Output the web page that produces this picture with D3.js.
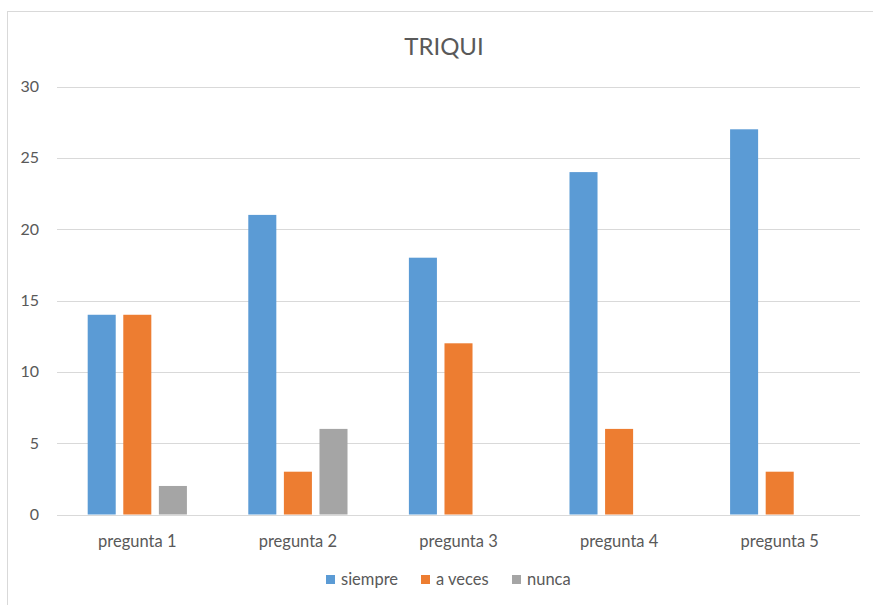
<!DOCTYPE html>
<html><head><meta charset="utf-8">
<script src="https://cdn.jsdelivr.net/npm/d3@7"></script>
<style>body{margin:0;background:#fff}svg{display:block}text{font-family:Lato,"Open Sans",sans-serif}</style>
</head><body><svg id="c" width="873" height="605"></svg>
<script>
const categories = ["pregunta 1","pregunta 2","pregunta 3","pregunta 4","pregunta 5"];
const seriesNames = ["siempre","a veces","nunca"];
const siempre = [14,21,18,24,27];
const aVeces = [14,3,12,6,3];
const nunca = [2,6,0,0,0];
const yTicks = [0,5,10,15,20,25,30];
const colors = ["#5b9bd5","#ed7d31","#a5a5a5"];
const seriesValues = [siempre, aVeces, nunca];

(function(){
const svg = d3.select("#c");
svg.append("rect").attr("x",7.5).attr("y",11.5).attr("width",900).attr("height",700)
  .attr("fill","#fff").attr("stroke","#d9d9d9").attr("stroke-width",1);

const pl=57, pr=860, pt=86.5, pb=514.5;
const y = d3.scaleLinear().domain([0,30]).range([pb,pt]);
const x = d3.scaleBand().domain(categories).range([pl,pr]).paddingInner(0).paddingOuter(0);
const bw = x.bandwidth();
const w = bw/5.73, gap = 0.27*w, outer = 1.095*w;
const xs = d3.scaleBand().domain(seriesNames).range([outer, bw-outer]).paddingInner(gap/(w+gap)).paddingOuter(0);

svg.append("g").selectAll("line").data(yTicks).join("line")
  .attr("x1",pl).attr("x2",pr).attr("y1",d=>Math.round(y(d))+0.5).attr("y2",d=>Math.round(y(d))+0.5)
  .attr("stroke","#d9d9d9").attr("stroke-width",1);

const yAxis = d3.axisLeft(y).tickValues(yTicks).tickSize(0).tickPadding(0);
const ga = svg.append("g").attr("transform",`translate(39,0)`).call(yAxis);
ga.select(".domain").remove();
ga.selectAll("text").attr("fill","#595959").style("font-size","16px").style("font-family","Lato,sans-serif");

seriesNames.forEach((s,i)=>{
  svg.append("g").selectAll("rect").data(categories).join("rect")
    .attr("x",c=>x(c)+xs(s)).attr("width",xs.bandwidth())
    .attr("y",(c,j)=>y(seriesValues[i][j])).attr("height",(c,j)=>y(0)-y(seriesValues[i][j]))
    .attr("fill",colors[i]);
});

const xAxis = d3.axisBottom(x).tickSize(0).tickPadding(0);
const gx = svg.append("g").attr("transform",`translate(0,${pb+32})`).call(xAxis);
gx.select(".domain").remove();
gx.selectAll("text").attr("fill","#595959").style("font-size","16.5px").style("font-family","Lato,sans-serif").attr("dy","0");

svg.append("text").attr("x",444).attr("y",55).attr("text-anchor","middle")
  .attr("fill","#595959").style("font-size","24px").text("TRIQUI");

const legX = [326,421,512];
const lg = svg.append("g");
seriesNames.forEach((s,i)=>{
  lg.append("rect").attr("x",legX[i]).attr("y",575).attr("width",9).attr("height",9).attr("fill",colors[i]);
  lg.append("text").attr("x",legX[i]+15).attr("y",585).attr("fill","#595959").style("font-size","16.5px").text(s);
});
})();
</script></body></html>
